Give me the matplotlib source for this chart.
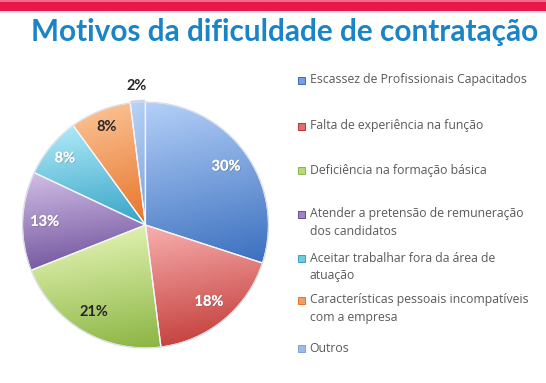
import numpy as np
import matplotlib
matplotlib.use("Agg")
import matplotlib.pyplot as plt
from matplotlib.patches import Rectangle
from matplotlib.colors import LinearSegmentedColormap, to_rgb
import matplotlib.patheffects as pe

title = "Motivos da dificuldade de contratação"
categories = [
    "Escassez de Profissionais Capacitados",
    "Falta de experiência na função",
    "Deficiência na formação básica",
    "Atender a pretensão de remuneração\ndos candidatos",
    "Aceitar trabalhar fora da área de\natuação",
    "Características pessoais incompatíveis\ncom a empresa",
    "Outros",
]
values = [30, 18, 21, 13, 8, 8, 2]

# (light, dark) gradient colours per slice
grads = [
    ("#b4d0f8", "#3a6fbf"),
    ("#f8b0b0", "#bf3430"),
    ("#eaf9bd", "#8cb543"),
    ("#d2bfe6", "#6a4b98"),
    ("#b3ecfa", "#35a3c6"),
    ("#fcc79a", "#e7742a"),
    ("#bcd5f8", "#7aa2dc"),
]
label_colors = ["white", "white", "#262626", "white", "white", "#262626", "#262626"]
label_dist = [0.81, 0.81, 0.82, 0.82, 0.85, 0.86, 1.11]
explode = [0, 0, 0, 0, 0, 0, 0.02]

W, H = 546, 383
fig = plt.figure(figsize=(W / 100, H / 100), dpi=100)
fig.patch.set_facecolor("white")

# top pink bar
fig.patches.append(Rectangle((0, 1 - 11 / H), 1, 11 / H, transform=fig.transFigure,
                             facecolor="#e8184b", edgecolor="none"))
fig.patches.append(Rectangle((0, 1 - 1.5 / H), 1, 1.5 / H, transform=fig.transFigure,
                             facecolor="#f26a8a", edgecolor="none"))
fig.patches.append(Rectangle((0, 1 - 13 / H), 1, 2 / H, transform=fig.transFigure,
                             facecolor="#f3dde3", edgecolor="none"))

fig.text(284.5 / W, 1 - 32.5 / H, title, ha="center", va="center",
         fontsize=21.4, fontweight="bold", color="#1b84c6", family=["Lato", "DejaVu Sans"])

# pie axes: center (145.5, 225) px, radius 123 px
cx, cy, R = 145.5, 225, 123
half = 130
ax = fig.add_axes([(cx - half) / W, (H - cy - half) / H, 2 * half / W, 2 * half / H])
wedges, texts = ax.pie(values, startangle=90, counterclock=False, radius=1,
                       explode=explode,
                       wedgeprops=dict(edgecolor="#f4f6fa", linewidth=0.9))

for w, (c1, c2), v, d, lc in zip(wedges, grads, values, label_dist, label_colors):
    w.set_facecolor("none")
    w.set_zorder(3)
    x0, y0, x1, y1 = w.get_path().get_extents().extents
    cmap = LinearSegmentedColormap.from_list("g", [c1, c2])
    yy, xx = np.mgrid[0:1:100j, 0:1:100j]
    grad = 0.85 * yy + 0.15 * xx
    im = ax.imshow(grad, extent=[x0, x1, y0, y1], cmap=cmap, origin="upper",
                   vmin=0, vmax=1, zorder=2, interpolation="bilinear")
    im.set_clip_path(w)
    ang = np.deg2rad((w.theta1 + w.theta2) / 2)
    lx, ly = w.center[0] + d * np.cos(ang), w.center[1] + d * np.sin(ang)
    t = ax.text(lx, ly, f"{v}%", ha="center", va="center", fontsize=10.5,
                fontweight="bold", color=lc, family=["Lato", "DejaVu Sans"], zorder=5)
    if lc == "white":
        t.set_path_effects([pe.withSimplePatchShadow(offset=(0.6, -0.6), alpha=0.35),
                            pe.Normal()])

# outer rim
theta = np.linspace(0, 2 * np.pi, 400)
ax.plot(np.cos(theta), np.sin(theta), color="#d8dde6", lw=0.8, zorder=4)

lim = half / R
ax.set_xlim(-lim, lim)
ax.set_ylim(-lim, lim)
ax.set_aspect("equal")
ax.axis("off")

# legend (manual)
legend_y = [80, 126, 170, 214, 258, 300, 348]
for (c1, c2), lab, y in zip(grads, categories, legend_y):
    s = 7
    mid = tuple(0.5 * a + 0.5 * b for a, b in zip(to_rgb(c1), to_rgb(c2)))
    fig.patches.append(Rectangle(((301 - s / 2) / W, 1 - (y + s / 2) / H), s / W, s / H,
                                 transform=fig.transFigure, facecolor=mid,
                                 edgecolor=c2, linewidth=0.7))
    fig.text(309.5 / W, 1 - (y - 6.5) / H, lab, ha="left", va="top", fontsize=8.8,
             color="#5a5a5a", linespacing=1.45, family=["Open Sans", "DejaVu Sans"])

fig.savefig("out.png", dpi=100, facecolor="white")
